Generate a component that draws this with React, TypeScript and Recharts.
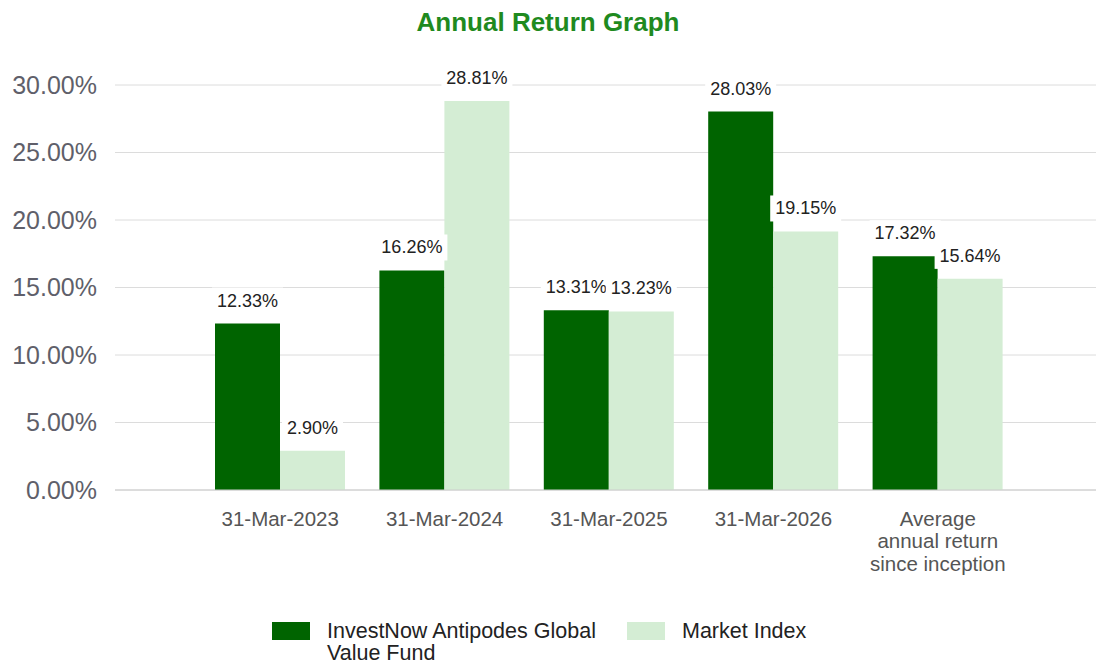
import React from 'react';
import { BarChart, Bar, XAxis, YAxis, CartesianGrid, LabelList, Legend } from 'recharts';

const categories = ['31-Mar-2023', '31-Mar-2024', '31-Mar-2025', '31-Mar-2026', 'Average annual return since inception'];
const categoryLines: string[][] = [
  ['31-Mar-2023'],
  ['31-Mar-2024'],
  ['31-Mar-2025'],
  ['31-Mar-2026'],
  ['Average', 'annual return', 'since inception'],
];
const fundReturns = [12.33, 16.26, 13.31, 28.03, 17.32];
const indexReturns = [2.9, 28.81, 13.23, 19.15, 15.64];
const yTicks = [0, 5, 10, 15, 20, 25, 30];
const seriesNames = ['InvestNow Antipodes Global Value Fund', 'Market Index'];
const seriesColors = ['#006400', '#d4edd4'];
const title = 'Annual Return Graph';

const data = categories.map((c, i) => ({ category: c, fund: fundReturns[i], index: indexReturns[i] }));

const FONT = 'Arial, "Liberation Sans", sans-serif';

const textWidth = (s: string) => {
  let w = 0;
  for (const ch of s) {
    if (ch >= '0' && ch <= '9') w += 10;
    else if (ch === '.') w += 5;
    else if (ch === '%') w += 16;
    else w += 8;
  }
  return w;
};

const renderLabel = (props: any) => {
  const { x, y, width, value } = props;
  const text = Number(value).toFixed(2) + '%';
  const cx = Number(x) + Number(width) / 2;
  const top = Number(y);
  const w = textWidth(text) + 10;
  return (
    <g>
      <rect x={cx - w / 2} y={top - 36} width={w} height={26} fill="#ffffff" />
      <text x={cx} y={top - 23} textAnchor="middle" dominantBaseline="central" fontSize={18} fontFamily={FONT} fill="#222">
        {text}
      </text>
    </g>
  );
};

const CategoryTick = (props: any) => {
  const { x, y, payload } = props;
  const idx = categories.indexOf(payload.value);
  const lines = idx >= 0 ? categoryLines[idx] : [String(payload.value)];
  return (
    <g>
      {lines.map((l, i) => (
        <text key={i} x={x} y={y + 20 + i * 22.5} textAnchor="middle" dominantBaseline="central" fontSize={20.5} fontFamily={FONT} fill="#555">
          {l}
        </text>
      ))}
    </g>
  );
};

const LegendContent = () => (
  <div style={{ display: 'flex', alignItems: 'flex-start', paddingLeft: 272, fontFamily: FONT, fontSize: 21.5, color: '#222', lineHeight: '22px' }}>
    {seriesNames.map((n, i) => (
      <div key={n} style={{ display: 'flex', alignItems: 'flex-start', marginRight: 10 }}>
        <div style={{ width: 38, height: 18, background: seriesColors[i], marginTop: 2, marginRight: 17 }} />
        <div style={{ maxWidth: i === 0 ? 290 : 300 }}>{n}</div>
      </div>
    ))}
  </div>
);

export default function App() {
  return (
    <div style={{ position: 'absolute', left: 0, top: 0, width: 1096, height: 665, background: '#fff' }}>
      <div style={{ position: 'absolute', left: 0, top: 7, width: 1096, textAlign: 'center', fontFamily: FONT, fontWeight: 'bold', fontSize: 26, color: '#1f8a1f' }}>
        {title}
      </div>
      <BarChart width={1096} height={665} data={data} margin={{ top: 85, right: 0, bottom: 145, left: 0 }} barGap={0} barSize={65}>
        <CartesianGrid vertical={false} stroke="#dcdcdc" />
        <XAxis
          dataKey="category"
          tick={<CategoryTick />}
          tickLine={false}
          axisLine={{ stroke: '#cccccc' }}
          padding={{ left: 83, right: 76 }}
          interval={0}
        />
        <YAxis
          width={115}
          domain={[0, 30]}
          ticks={yTicks}
          tickFormatter={(v: number) => v.toFixed(2) + '%'}
          tick={{ fontSize: 25, fill: '#5f5f6a', fontFamily: FONT }}
          tickLine={false}
          axisLine={false}
          tickSize={0}
          tickMargin={18}
        />
        <Legend verticalAlign="middle" align="center" wrapperStyle={{ top: 620, left: 0, width: 1096 }} content={<LegendContent />} />
        <Bar dataKey="fund" name={seriesNames[0]} fill={seriesColors[0]} isAnimationActive={false}>
          <LabelList dataKey="fund" content={renderLabel} />
        </Bar>
        <Bar dataKey="index" name={seriesNames[1]} fill={seriesColors[1]} isAnimationActive={false}>
          <LabelList dataKey="index" content={renderLabel} />
        </Bar>
      </BarChart>
    </div>
  );
}
